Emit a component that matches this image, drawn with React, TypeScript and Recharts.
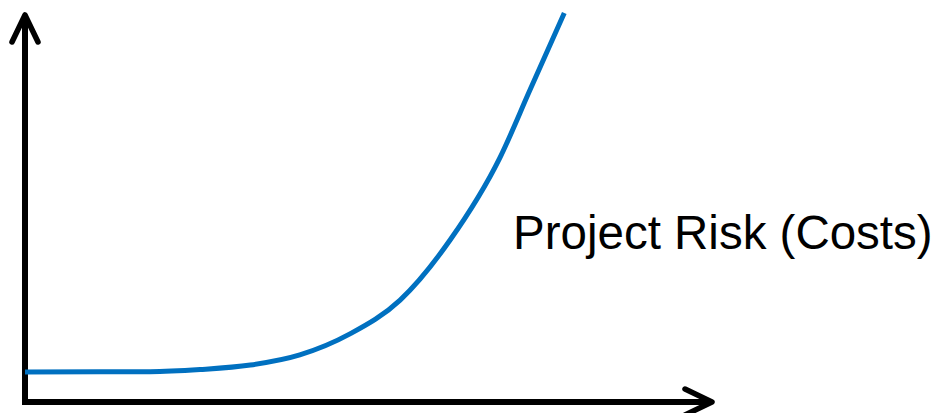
import { Line, LineChart, ReferenceLine, XAxis, YAxis } from 'recharts'

// effort / time along the x axis (0-100), risk on y (0-100)
const effort = [0, 10.9, 18.2, 25.5, 32.8, 40.0, 47.3, 54.6, 61.9, 69.1, 73.5, 78.5]
const risk = [7.7, 7.8, 7.8, 8.35, 9.5, 12.1, 17.5, 26.2, 41.7, 62.7, 80.2, 100]
const seriesLabel = 'Project Risk (Costs)'

const data = effort.map((x, i) => ({ x, risk: risk[i] }))

const App = () => {
  return (
    <div style={{ position: 'absolute', left: 0, top: 0, width: 934, height: 413, background: '#fff' }}>
      <LineChart
        width={934}
        height={413}
        data={data}
        margin={{ top: 13, right: 222, bottom: 11, left: 25 }}
      >
        <defs>
          <marker
            id="arrow"
            markerUnits="userSpaceOnUse"
            viewBox="0 0 40 40"
            markerWidth={40}
            markerHeight={40}
            refX={30}
            refY={20}
            orient="auto"
            overflow="visible"
          >
            <path d="M3 7 L30 20 L3 33" fill="none" stroke="#000" strokeWidth={5.5} strokeLinecap="round" strokeLinejoin="round" />
          </marker>
        </defs>
        <XAxis type="number" dataKey="x" domain={[0, 100]} hide />
        <YAxis type="number" domain={[0, 100]} hide />
        <ReferenceLine
          segment={[{ x: 0, y: -0.8 }, { x: 0, y: 99.5 }]}
          stroke="#000"
          strokeWidth={6}
          ifOverflow="visible"
          markerEnd="url(#arrow)"
        />
        <ReferenceLine
          segment={[{ x: 0, y: 0 }, { x: 100, y: 0 }]}
          stroke="#000"
          strokeWidth={6}
          ifOverflow="visible"
          markerEnd="url(#arrow)"
        />
        <Line
          type="monotone"
          dataKey="risk"
          stroke="#0070C0"
          strokeWidth={5}
          dot={false}
          activeDot={false}
          isAnimationActive={false}
        />
      </LineChart>
      <div
        style={{
          position: 'absolute',
          left: 513,
          top: 209,
          fontFamily: '"Liberation Sans", Arial, sans-serif',
          fontSize: 47.5,
          lineHeight: 1,
          color: '#000',
          whiteSpace: 'nowrap',
        }}
      >
        {seriesLabel}
      </div>
    </div>
  )
}

export default App
